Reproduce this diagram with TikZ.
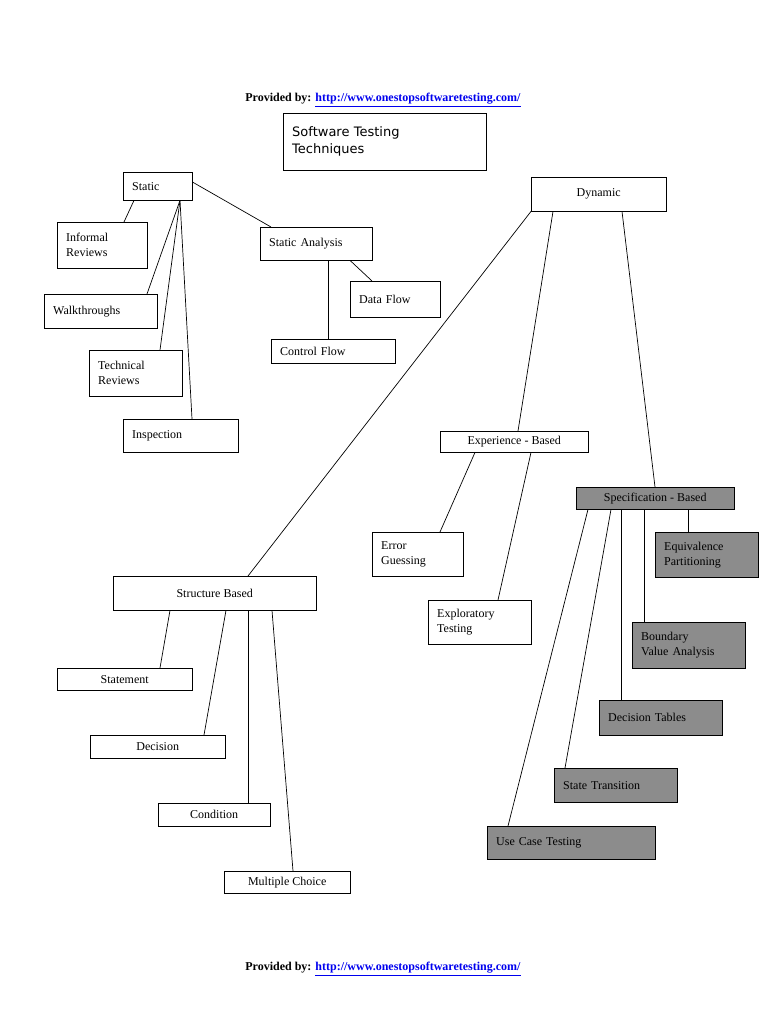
\documentclass[tikz,border=0pt]{standalone}
\usepackage{fontspec}
\setmainfont{Liberation Serif}
\newfontfamily\titlefont{DejaVu Sans}
\usetikzlibrary{positioning}
\definecolor{specgray}{RGB}{140,140,140}
\definecolor{linkblue}{RGB}{0,0,238}
\tikzset{
  box/.style={draw, anchor=north west, inner xsep=9pt, inner ysep=2pt, font=\fontsize{12}{15}\selectfont},
  lbox/.style={box, text width=#1, align=left},
  spec/.style={fill=specgray},
  link/.style={line width=0.7pt}
}
\newcommand{\provided}{\textbf{Provided by:} \textcolor{linkblue}{\underline{\textbf{http://www.onestopsoftwaretesting.com/}}}}
\begin{document}
\begin{tikzpicture}[x=1pt, y=-1pt]
\useasboundingbox (0,0) rectangle (768,1024);
% header, footer and title
\node[font=\fontsize{12}{14}\selectfont] (top) at (383,100) {\provided};
\node[font=\fontsize{12}{14}\selectfont] (bottom) at (383,969) {\provided};
\node[box, minimum width=203pt, minimum height=57pt, lbox=185pt, font=\titlefont\fontsize{13}{17}\selectfont, inner ysep=6pt, anchor=north west] (title) at (283,113) {Software Testing\\Techniques\\[14pt]};

% static side
\node[box, minimum width=69pt, minimum height=28pt, lbox=51pt] (static) at (123,172) {Static};
\node[box, minimum width=90pt, minimum height=46pt, lbox=72pt] (informal) at (57,222) {Informal\\Reviews};
\node[box, minimum width=113pt, minimum height=34pt, lbox=95pt] (walk) at (44,294) {Walkthroughs};
\node[box, minimum width=93pt, minimum height=46pt, lbox=75pt] (technical) at (89,350) {Technical\\Reviews};
\node[box, minimum width=115pt, minimum height=33pt, lbox=97pt] (inspect) at (123,419) {Inspection};
\node[box, minimum width=112pt, minimum height=33pt, lbox=94pt] (sanalysis) at (260,227) {Static Analysis};
\node[box, minimum width=90pt, minimum height=36pt, lbox=72pt] (dataflow) at (350,281) {Data Flow};
\node[box, minimum width=124pt, minimum height=24pt, lbox=106pt] (ctrlflow) at (271,339) {Control Flow};

% dynamic side
\node[box, minimum width=135pt, minimum height=34pt] (dynamic) at (531,177) {Dynamic};
\node[box, minimum width=148pt, minimum height=21pt, inner ysep=1pt] (experience) at (440,431) {Experience - Based};
\node[box, minimum width=91pt, minimum height=44pt, lbox=73pt] (errguess) at (372,532) {Error\\Guessing};
\node[box, minimum width=103pt, minimum height=44pt, lbox=85pt] (explore) at (428,600) {Exploratory\\Testing};
\node[box, spec, minimum width=158pt, minimum height=22pt, inner ysep=1pt] (specbased) at (576,487) {Specification - Based};
\node[box, spec, minimum width=103pt, minimum height=45pt, lbox=85pt] (equiv) at (655,532) {Equivalence\\Partitioning};
\node[box, spec, minimum width=113pt, minimum height=46pt, lbox=95pt] (boundary) at (632,622) {Boundary\\Value Analysis};
\node[box, spec, minimum width=123pt, minimum height=35pt, lbox=105pt] (dectables) at (599,700) {Decision Tables};
\node[box, spec, minimum width=123pt, minimum height=34pt, lbox=105pt] (statetrans) at (554,768) {State Transition};
\node[box, spec, minimum width=168pt, minimum height=33pt, lbox=150pt] (usecase) at (487,826) {Use Case Testing};

% structure based
\node[box, minimum width=203pt, minimum height=34pt] (structure) at (113,576) {Structure Based};
\node[box, minimum width=135pt, minimum height=22pt, inner ysep=1pt] (statement) at (57,668) {Statement};
\node[box, minimum width=135pt, minimum height=23pt, inner ysep=1pt] (decision) at (90,735) {Decision};
\node[box, minimum width=112pt, minimum height=23pt, inner ysep=1pt] (condition) at (158,803) {Condition};
\node[box, minimum width=126pt, minimum height=22pt, inner ysep=1pt] (multiple) at (224,871) {Multiple Choice};

% connectors
\draw[link] ([yshift=-10pt]static.north east) -- ([xshift=11pt]sanalysis.north west);
\draw[link] ([xshift=11pt]static.south west) -- ([xshift=67pt]informal.north west);
\draw[link] ([xshift=57pt]static.south west) -- ([xshift=103pt]walk.north west);
\draw[link] ([xshift=57pt]static.south west) -- ([xshift=71pt]technical.north west);
\draw[link] ([xshift=57pt]static.south west) -- ([xshift=69pt]inspect.north west);
\draw[link] ([xshift=68pt]sanalysis.south west) -- ([xshift=57pt]ctrlflow.north west);
\draw[link] ([xshift=90pt]sanalysis.south west) -- ([xshift=22pt]dataflow.north west);
\draw[link] (dynamic.south west) -- ([xshift=135pt]structure.north west);
\draw[link] ([xshift=22pt]dynamic.south west) -- ([xshift=78pt]experience.north west);
\draw[link] ([xshift=91pt]dynamic.south west) -- ([xshift=79pt]specbased.north west);
\draw[link] ([xshift=35pt]experience.south west) -- ([xshift=68pt]errguess.north west);
\draw[link] ([xshift=91pt]experience.south west) -- ([xshift=70pt]explore.north west);
\draw[link] ([xshift=12pt]specbased.south west) -- ([xshift=21pt]usecase.north west);
\draw[link] ([xshift=35pt]specbased.south west) -- ([xshift=11pt]statetrans.north west);
\draw[link] ([xshift=45pt]specbased.south west) -- ([xshift=22pt]dectables.north west);
\draw[link] ([xshift=68pt]specbased.south west) -- ([xshift=12pt]boundary.north west);
\draw[link] ([xshift=112pt]specbased.south west) -- ([xshift=33pt]equiv.north west);
\draw[link] ([xshift=57pt]structure.south west) -- ([xshift=103pt]statement.north west);
\draw[link] ([xshift=113pt]structure.south west) -- ([xshift=114pt]decision.north west);
\draw[link] ([xshift=135pt]structure.south west) -- ([xshift=90pt]condition.north west);
\draw[link] ([xshift=159pt]structure.south west) -- ([xshift=69pt]multiple.north west);
\end{tikzpicture}
\end{document}
